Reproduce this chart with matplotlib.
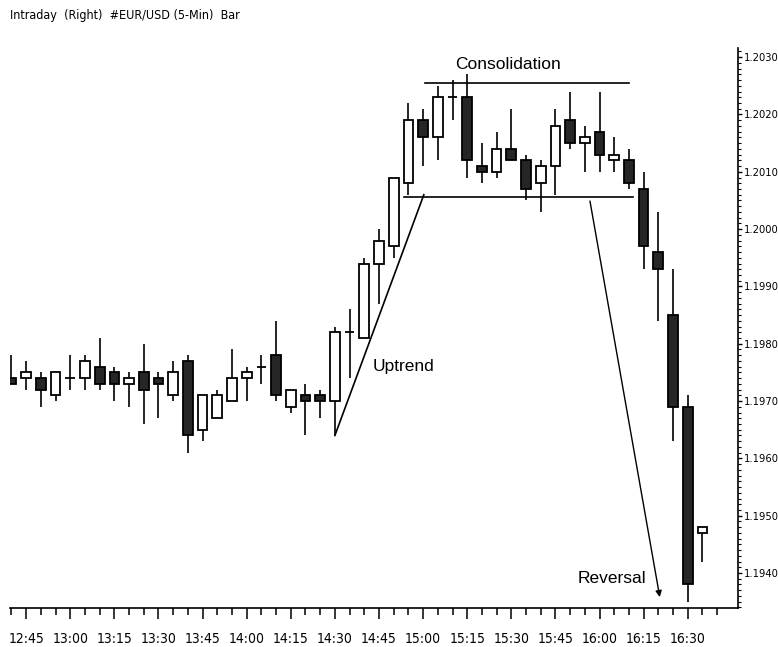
import matplotlib
matplotlib.use("Agg")
import matplotlib.pyplot as plt
from matplotlib import font_manager
from matplotlib.ticker import FixedLocator, MultipleLocator, FormatStrFormatter

# 5-minute EUR/USD bars, 12:40 .. 16:35
times = ["12:40", "12:45", "12:50", "12:55", "13:00", "13:05", "13:10", "13:15",
         "13:20", "13:25", "13:30", "13:35", "13:40", "13:45", "13:50", "13:55",
         "14:00", "14:05", "14:10", "14:15", "14:20", "14:25", "14:30", "14:35",
         "14:40", "14:45", "14:50", "14:55", "15:00", "15:05", "15:10", "15:15",
         "15:20", "15:25", "15:30", "15:35", "15:40", "15:45", "15:50", "15:55",
         "16:00", "16:05", "16:10", "16:15", "16:20", "16:25", "16:30", "16:35"]

opens = [1.1974, 1.1974, 1.1974, 1.1971, 1.1974, 1.1974, 1.1976, 1.1975, 1.1973, 1.1975,
         1.1974, 1.1971, 1.1977, 1.1965, 1.1967, 1.1970, 1.1974, 1.1976, 1.1978, 1.1969,
         1.1971, 1.1971, 1.1970, 1.1982, 1.1981, 1.1994, 1.1997, 1.2008, 1.2019, 1.2016,
         1.2023, 1.2023, 1.2011, 1.2010, 1.2014, 1.2012, 1.2008, 1.2011, 1.2019, 1.2015,
         1.2017, 1.2012, 1.2012, 1.2007, 1.1996, 1.1985, 1.1969, 1.1947]
highs = [1.1978, 1.1977, 1.1975, 1.1975, 1.1978, 1.1978, 1.1981, 1.1976, 1.1975, 1.1980,
         1.1975, 1.1977, 1.1978, 1.1971, 1.1972, 1.1979, 1.1976, 1.1978, 1.1984, 1.1972,
         1.1973, 1.1972, 1.1983, 1.1986, 1.1995, 1.2000, 1.2009, 1.2022, 1.2021, 1.2025,
         1.2026, 1.2027, 1.2015, 1.2017, 1.2021, 1.2013, 1.2012, 1.2021, 1.2024, 1.2018,
         1.2024, 1.2016, 1.2014, 1.2010, 1.2003, 1.1993, 1.1971, 1.1948]
lows = [1.1973, 1.1972, 1.1969, 1.1970, 1.1972, 1.1972, 1.1972, 1.1970, 1.1969, 1.1966,
        1.1967, 1.1970, 1.1961, 1.1963, 1.1967, 1.1970, 1.1970, 1.1973, 1.1970, 1.1968,
        1.1964, 1.1967, 1.1964, 1.1974, 1.1981, 1.1987, 1.1995, 1.2006, 1.2011, 1.2012,
        1.2019, 1.2009, 1.2008, 1.2009, 1.2012, 1.2005, 1.2003, 1.2006, 1.2014, 1.2010,
        1.2010, 1.2010, 1.2007, 1.1993, 1.1984, 1.1963, 1.1935, 1.1942]
closes = [1.1973, 1.1975, 1.1972, 1.1975, 1.1974, 1.1977, 1.1973, 1.1973, 1.1974, 1.1972,
          1.1973, 1.1975, 1.1964, 1.1971, 1.1971, 1.1974, 1.1975, 1.1976, 1.1971, 1.1972,
          1.1970, 1.1970, 1.1982, 1.1982, 1.1994, 1.1998, 1.2009, 1.2019, 1.2016, 1.2023,
          1.2023, 1.2012, 1.2010, 1.2014, 1.2012, 1.2007, 1.2011, 1.2018, 1.2015, 1.2016,
          1.2013, 1.2013, 1.2008, 1.1997, 1.1993, 1.1969, 1.1938, 1.1948]

tick_labels = ["12:45", "13:00", "13:15", "13:30", "13:45", "14:00", "14:15", "14:30",
               "14:45", "15:00", "15:15", "15:30", "15:45", "16:00", "16:15", "16:30"]

# annotation lines (bar index, price)
uptrend = [(22, 1.1964), (28.05, 1.2006)]
consol_top = [(28.1, 1.20255), (42.0, 1.20255)]
consol_bottom = [(26.7, 1.20056), (42.3, 1.20056)]
reversal = [(39.35, 1.20049), (44.1, 1.19358)]


def find_condensed():
    # upright, regular-weight condensed face, if one is installed
    for f in font_manager.fontManager.ttflist:
        if f.style != "normal" or f.weight not in (400, "normal", "regular", "book"):
            continue
        if "Narrow" in f.name or "Condensed" in f.fname or f.stretch == "condensed":
            return f.fname
    return None


cond_file = find_condensed()
if cond_file:
    fp = font_manager.FontProperties(fname=cond_file)
else:
    fp = font_manager.FontProperties(family=["Liberation Sans", "DejaVu Sans"])

DARK = "#262626"

fig = plt.figure(figsize=(7.78, 6.47), dpi=100)
ax = fig.add_axes([10 / 778, 1 - 608 / 647, 728 / 778, 560 / 647])

x = list(range(len(times)))
body_w = 0.66

# wicks
ax.vlines(x, lows, highs, color="black", lw=1.2, zorder=1)

# bodies
for i, o, c in zip(x, opens, closes):
    if o == c:
        ax.hlines(o, i - body_w / 2, i + body_w / 2, color="black", lw=1.3, zorder=2)
        continue
    face = DARK if c < o else "white"
    ax.bar(i, abs(c - o), bottom=min(o, c), width=body_w, color=face,
           edgecolor="black", linewidth=1.3, zorder=2)

# trend / range lines
for seg in (uptrend, consol_top, consol_bottom):
    ax.plot([p[0] for p in seg], [p[1] for p in seg], color="black", lw=1.2, zorder=3)
ax.annotate("", xy=reversal[1], xytext=reversal[0],
            arrowprops=dict(arrowstyle="-|>", color="black", lw=1.0,
                            mutation_scale=9, shrinkA=0, shrinkB=0))

label_font = dict(fontsize=12.5, family=["Liberation Sans", "DejaVu Sans"])
ax.text(33.8, 1.20288, "Consolidation", ha="center", va="center", **label_font)
ax.text(26.7, 1.19761, "Uptrend", ha="center", va="center", **label_font)
ax.text(40.85, 1.19390, "Reversal", ha="center", va="center", **label_font)

ax.set_xlim(-0.1, 49.42)
ax.set_ylim(1.19339, 1.20316)

for side in ("left", "top"):
    ax.spines[side].set_visible(False)
ax.spines["right"].set_linewidth(1.2)
ax.spines["bottom"].set_linewidth(1.2)

ax.xaxis.set_major_locator(FixedLocator([times.index(t) for t in tick_labels]))
ax.set_xticklabels(tick_labels)
ax.xaxis.set_minor_locator(FixedLocator(list(range(0, 49))))
ax.tick_params(axis="x", which="major", length=8, width=1.1, pad=9)
ax.tick_params(axis="x", which="minor", length=5, width=1.1)

ax.yaxis.tick_right()
ax.yaxis.set_major_locator(MultipleLocator(0.001))
ax.yaxis.set_major_formatter(FormatStrFormatter("%.4f"))
ax.yaxis.set_minor_locator(MultipleLocator(0.0001))
ax.tick_params(axis="y", which="major", length=3, width=1.0, pad=1)
ax.tick_params(axis="y", which="minor", length=2, width=0.8)

for lab in ax.get_xticklabels():
    lab.set_fontproperties(fp)
    lab.set_fontsize(10)
for lab in ax.get_yticklabels():
    lab.set_fontproperties(fp)
    lab.set_fontsize(8)

title = fig.text(10 / 778, 1 - 16 / 647, "Intraday  (Right)  #EUR/USD (5-Min)  Bar",
                 ha="left", va="center")
title.set_fontproperties(fp)
title.set_fontsize(9)

fig.savefig("out.png", dpi=100)
